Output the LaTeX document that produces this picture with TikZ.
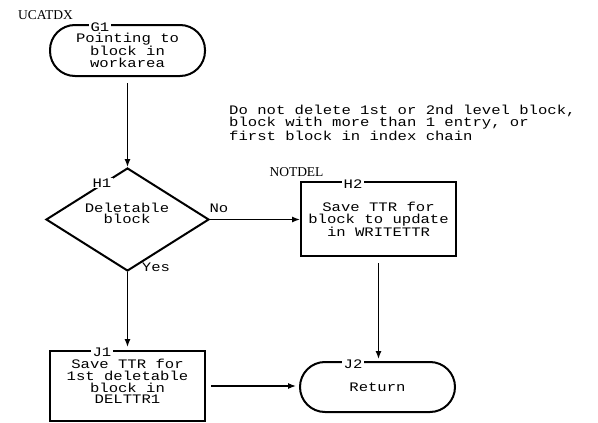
\documentclass[tikz,border=0pt]{standalone}
\usepackage{fontspec}
\setmainfont{Liberation Serif}
\newfontfamily\ibm[FakeStretch=1.2]{Liberation Mono}
\usetikzlibrary{shapes.geometric,arrows.meta}
\begin{document}
\begin{tikzpicture}[x=1pt,y=-1pt,
  ibmtxt/.style={font=\ibm\fontsize{13}{11.7}\selectfont, align=center, inner sep=0pt},
  procbox/.style={draw, line width=2pt, rectangle, minimum width=155pt, ibmtxt},
  termbox/.style={draw, line width=2pt, rectangle, rounded corners=25pt, minimum width=155pt, ibmtxt},
  decbox/.style={draw, line width=2pt, diamond, aspect=1.58, minimum width=163pt, minimum height=103pt, inner sep=0pt},
  idlabel/.style={ibmtxt, fill=white, inner xsep=1.5pt, inner ysep=0.5pt},
  entrylabel/.style={font=\fontsize{13.5}{14}\selectfont, inner sep=0pt},
  conn/.style={line width=1.2pt, -{Latex[length=8pt,width=6pt]}},
]
\useasboundingbox (0,0) rectangle (598,423);

% nodes
\node[termbox, minimum height=51pt] (g1) at (127.5,50.5) {Pointing to\\block in\\workarea};
\node[decbox] (h1) at (127.5,219.5) {};
\node[ibmtxt] (h1text) at (127,213.5) {Deletable\\block};
\node[procbox, minimum height=74pt] (h2) at (378.5,219) {Save TTR for\\block to update\\in WRITETTR};
\node[procbox, minimum height=70pt] (j1) at (127.5,386) {};
\node[ibmtxt] (j1text) at (127.5,381.5) {Save TTR for\\1st deletable\\block in\\DELTTR1};
\node[termbox, minimum height=50pt] (j2) at (377.5,387) {Return};

% id labels
\node[idlabel] (g1id) at (100,27) {G1};
\node[idlabel] (h1id) at (102,183) {H1};
\node[idlabel] (h2id) at (353,184) {H2};
\node[idlabel] (j1id) at (102,352) {J1};
\node[idlabel] (j2id) at (353,364) {J2};

% entry labels
\node[entrylabel] (ucatdx) at (45.5,15) {UCATDX};
\node[entrylabel] (notdel) at (296.5,172) {NOTDEL};

% note
\node[ibmtxt, align=left, anchor=west] (note) at (229,122.5)
  {Do not delete 1st or 2nd level block,\\block with more than 1 entry, or\\first block in index chain};

% branch labels
\node[ibmtxt] (nolbl) at (219,208) {No};
\node[ibmtxt] (yeslbl) at (156,267) {Yes};

% connectors
\draw[conn, shorten <=6pt] (g1) -- (h1.north);
\draw[conn] (h1.east) -- (h1.east -| h2.west);
\draw[conn, shorten >=3pt] (h1.south) -- (j1.north);
\draw[conn, shorten <=6pt, shorten >=2pt] (h2.south) -- (h2.south |- j2.north);
\draw[conn, shorten <=5pt, shorten >=3pt] (j1.east) -- (j1.east -| j2.west);
\end{tikzpicture}
\end{document}
